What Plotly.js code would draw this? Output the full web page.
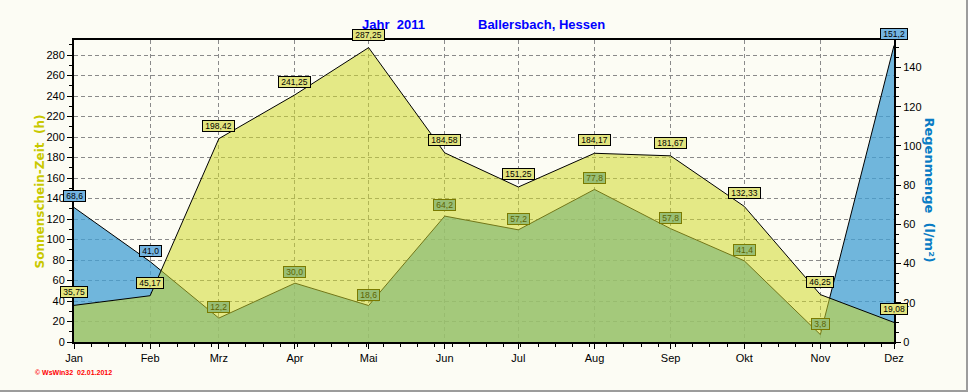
<!DOCTYPE html>
<html>
<head>
<meta charset="utf-8">
<script src="https://cdn.plot.ly/plotly-3.0.1.min.js"></script>
<style>
  html, body { margin: 0; padding: 0; background: #FCFCF4; }
  #chart { width: 966px; height: 390px; border-right: 2px solid #9c9c9c; border-bottom: 2px solid #9c9c9c; }
</style>
</head>
<body>
<div id="chart"></div>
<script>
// ---- data ----
const monthLabels = ['Jan','Feb','Mrz','Apr','Mai','Jun','Jul','Aug','Sep','Okt','Nov','Dez'];
const monthDates = ['2011-01-01','2011-02-01','2011-03-01','2011-04-01','2011-05-01','2011-06-01',
                    '2011-07-01','2011-08-01','2011-09-01','2011-10-01','2011-11-01','2011-12-01'];
const sunshineHours = [35.75, 45.17, 198.42, 241.25, 287.25, 184.58, 151.25, 184.17, 181.67, 132.33, 46.25, 19.08];
const rainAmount    = [68.6, 41.0, 12.2, 30.0, 18.6, 64.2, 57.2, 77.8, 57.8, 41.4, 3.8, 151.2];

// ---- layout constants ----
const SUN_MAX = 294.7;
const RAIN_MAX = 154.0;
const FONT = 'Liberation Sans, Arial, sans-serif';

const fmt = (v, d) => v.toFixed(d).replace('.', ',');
const nb = s => '\u00A0' + s + '\u00A0';

const traces = [
  {
    x: monthDates, y: rainAmount, yaxis: 'y', type: 'scatter', mode: 'lines',
    fill: 'tozeroy', fillcolor: 'rgba(65,159,212,0.75)',
    line: { color: '#000000', width: 1 }, hoverinfo: 'skip'
  },
  {
    x: monthDates, y: sunshineHours, yaxis: 'y2', type: 'scatter', mode: 'lines',
    fill: 'tozeroy', fillcolor: 'rgba(208,216,44,0.55)',
    line: { color: '#000000', width: 1 }, hoverinfo: 'skip'
  }
];

const annotations = [];
// titles
annotations.push({ xref: 'paper', yref: 'paper', x: 0.39, y: 1.05, xanchor: 'center', yanchor: 'middle',
  text: 'Jahr\u00A0\u00A02011', showarrow: false, font: { family: FONT, size: 13, color: '#0000FF', weight: 'bold' } });
annotations.push({ xref: 'paper', yref: 'paper', x: 0.5707, y: 1.05, xanchor: 'center', yanchor: 'middle',
  text: 'Ballersbach, Hessen', showarrow: false, font: { family: FONT, size: 13, color: '#0000FF', weight: 'bold' } });
// axis titles
annotations.push({ xref: 'paper', yref: 'paper', x: -0.041, y: 0.5, xanchor: 'center', yanchor: 'middle',
  text: 'Sonnenschein-Zeit\u00A0\u00A0(h)', textangle: -90, showarrow: false,
  font: { family: 'DejaVu Sans', size: 12, color: '#C8C800', weight: 'bold' } });
annotations.push({ xref: 'paper', yref: 'paper', x: 1.0427, y: 0.505, xanchor: 'center', yanchor: 'middle',
  text: 'Regenmenge\u00A0\u00A0(l/m²)', textangle: 90, showarrow: false,
  font: { family: 'DejaVu Sans', size: 13, color: '#0A7CC4', weight: 'bold' } });
// footer
annotations.push({ xref: 'paper', yref: 'paper', x: -0.05, y: -0.082, xanchor: 'left', yanchor: 'top',
  text: '©\u00A0WsWin32\u00A0\u00A002.01.2012', showarrow: false,
  font: { family: FONT, size: 7, color: '#FF0000', weight: 'bold' } });

// value labels
for (let i = 0; i < monthDates.length; i++) {
  annotations.push({
    x: monthDates[i], y: sunshineHours[i], xref: 'x', yref: 'y2',
    xanchor: 'center', yanchor: 'bottom', yshift: 7, showarrow: false,
    text: nb(fmt(sunshineHours[i], 2)), bgcolor: '#E2E47E', bordercolor: '#000000',
    borderwidth: 1, borderpad: 0, font: { family: FONT, size: 8.5, color: '#000000' }
  });
  const above = rainAmount[i] / RAIN_MAX > sunshineHours[i] / SUN_MAX;
  annotations.push({
    x: monthDates[i], y: rainAmount[i], xref: 'x', yref: 'y',
    xanchor: 'center', yanchor: 'bottom', yshift: 5, showarrow: false,
    text: nb(fmt(rainAmount[i], 1)),
    bgcolor: above ? '#74B4E0' : '#98BE74',
    bordercolor: above ? '#000000' : '#7A7A00',
    borderwidth: 1, borderpad: 0,
    font: { family: FONT, size: 8.5, color: above ? '#000000' : '#5E6400' }
  });
}

const layout = {
  width: 966, height: 390,
  margin: { l: 74, r: 72, t: 40, b: 48 },
  paper_bgcolor: '#FCFCF4', plot_bgcolor: '#FCFCF4',
  showlegend: false, hovermode: false,
  font: { family: FONT, size: 11, color: '#000000' },
  xaxis: {
    type: 'date', range: [monthDates[0], monthDates[11]],
    tickmode: 'array', tickvals: monthDates, ticktext: monthLabels,
    ticks: 'outside', ticklen: 5, tickcolor: '#000000',
    showgrid: true, gridcolor: '#8A8A8A', griddash: '4px,3px', gridwidth: 1,
    showline: true, linecolor: '#000000', linewidth: 2, mirror: true,
    zeroline: false, layer: 'above traces',
    minor: { tickmode: 'linear', tick0: monthDates[0], dtick: 7 * 86400000, ticks: 'outside', ticklen: 3, tickcolor: '#000000', showgrid: false },
    tickfont: { family: FONT, size: 11, color: '#000000' }
  },
  yaxis: {
    side: 'right', range: [0, RAIN_MAX], tickmode: 'linear', tick0: 0, dtick: 20,
    ticks: 'outside', ticklen: 5, tickcolor: '#000000',
    showgrid: false, zeroline: false, showline: true, linecolor: '#000000', linewidth: 2,
    layer: 'above traces',
    minor: { tickmode: 'linear', tick0: 0, dtick: 5, ticks: 'outside', ticklen: 3, tickcolor: '#000000', showgrid: false },
    tickfont: { family: FONT, size: 11, color: '#000000' }
  },
  yaxis2: {
    side: 'left', overlaying: 'y', range: [0, SUN_MAX], tickmode: 'linear', tick0: 0, dtick: 20,
    ticks: 'outside', ticklen: 5, tickcolor: '#000000',
    showgrid: true, gridcolor: '#8A8A8A', griddash: '4px,3px', gridwidth: 1,
    zeroline: false, showline: true, linecolor: '#000000', linewidth: 2,
    layer: 'above traces',
    minor: { tickmode: 'linear', tick0: 0, dtick: 10, ticks: 'outside', ticklen: 3, tickcolor: '#000000', showgrid: false },
    tickfont: { family: FONT, size: 11, color: '#000000' }
  },
  annotations: annotations
};

Plotly.newPlot('chart', traces, layout, { displayModeBar: false, staticPlot: true });
</script>
</body>
</html>
